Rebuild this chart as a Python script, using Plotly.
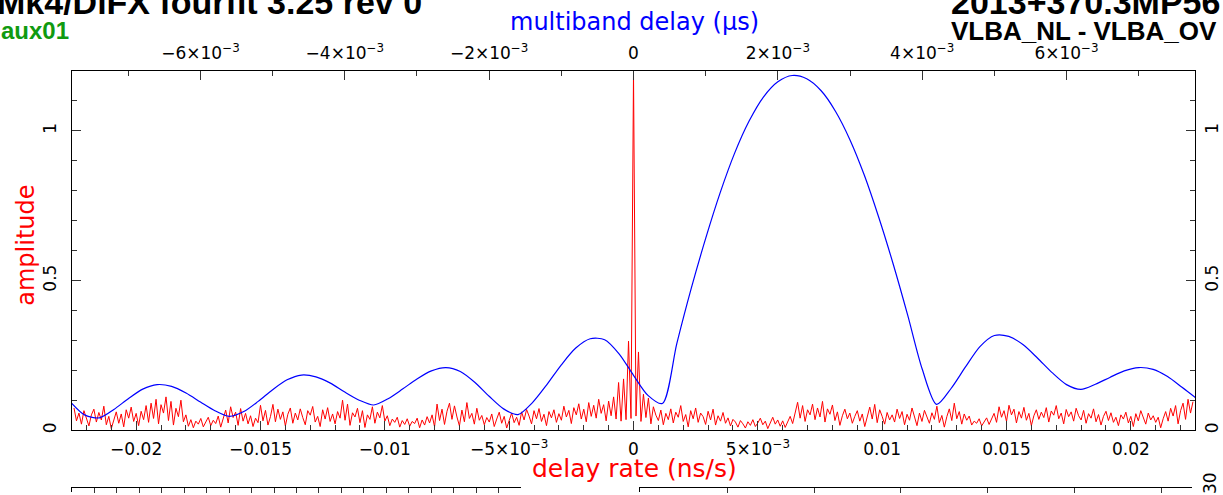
import numpy as np
import plotly.graph_objects as go

# ---- delay-rate spectrum (red), amplitude vs delay rate in ns/s, step 1e-4 ----
rate_step = 0.0001
rate_amp = [
    0.075, 0.032, 0.058, 0.021, 0.066, 0.044, 0.015, 0.052, 0.071, 0.028, 0.060, 0.035, 0.081, 0.019, 0.047,
    0.006, 0.038, 0.062, 0.024, 0.055, 0.012, 0.069, 0.041, 0.078, 0.030, 0.057, 0.016, 0.064, 0.036, 0.083,
    0.027, 0.091, 0.040, 0.104, 0.022, 0.086, 0.058, 0.112, 0.033, 0.097, 0.018, 0.074, 0.046, 0.101, 0.029,
    0.052, 0.014, 0.036, 0.009, 0.031, 0.021, 0.040, 0.012, 0.027, 0.044, 0.016, 0.034, 0.023, 0.048, 0.011,
    0.039, 0.068, 0.025, 0.079, 0.043, 0.061, 0.017, 0.073, 0.031, 0.057, 0.022, 0.049, 0.013, 0.041, 0.026,
    0.084, 0.032, 0.067, 0.018, 0.046, 0.087, 0.029, 0.071, 0.037, 0.062, 0.015, 0.054, 0.075, 0.024, 0.058,
    0.035, 0.072, 0.043, 0.019, 0.066, 0.051, 0.080, 0.028, 0.047, 0.013, 0.069, 0.038, 0.076, 0.030, 0.055,
    0.022, 0.063, 0.041, 0.101, 0.034, 0.088, 0.017, 0.059, 0.045, 0.074, 0.026, 0.066, 0.010, 0.052, 0.037,
    0.079, 0.024, 0.061, 0.042, 0.083, 0.031, 0.049, 0.016, 0.038, 0.027, 0.044, 0.011, 0.033, 0.020, 0.039,
    0.014, 0.030, 0.023, 0.041, 0.009, 0.035, 0.018, 0.046, 0.025, 0.052, 0.012, 0.088, 0.033, 0.071, 0.020,
    0.064, 0.091, 0.037, 0.082, 0.045, 0.015, 0.068, 0.029, 0.093, 0.040, 0.057, 0.021, 0.074, 0.034, 0.050,
    0.019, 0.043, 0.028, 0.055, 0.013, 0.038, 0.061, 0.024, 0.047, 0.008, 0.036, 0.058, 0.026, 0.044, 0.017,
    0.062, 0.035, 0.070, 0.048, 0.022, 0.066, 0.039, 0.073, 0.030, 0.054, 0.016, 0.063, 0.042, 0.069, 0.027,
    0.056, 0.034, 0.081, 0.045, 0.067, 0.023, 0.076, 0.052, 0.089, 0.038, 0.071, 0.029, 0.093, 0.047, 0.084,
    0.041, 0.104, 0.057, 0.086, 0.032, 0.098, 0.049, 0.112, 0.038, 0.160, 0.031, 0.172, 0.036, 0.298, 0.040,
    1.190, 0.048, 0.262, 0.030, 0.121, 0.043, 0.108, 0.022, 0.079, 0.051, 0.033, 0.068, 0.019, 0.057, 0.036,
    0.072, 0.025, 0.061, 0.044, 0.083, 0.030, 0.053, 0.012, 0.066, 0.039, 0.075, 0.027, 0.058, 0.046, 0.020,
    0.064, 0.035, 0.071, 0.018, 0.049, 0.031, 0.060, 0.024, 0.042, 0.015, 0.037, 0.028, 0.011, 0.033, 0.022,
    0.008, 0.029, 0.017, 0.036, 0.013, 0.025, 0.041, 0.019, 0.031, 0.006, 0.027, 0.044, 0.021, 0.035, 0.014,
    0.032, 0.010, 0.026, 0.047, 0.023, 0.058, 0.094, 0.041, 0.083, 0.030, 0.069, 0.052, 0.088, 0.036, 0.075,
    0.045, 0.097, 0.028, 0.072, 0.054, 0.085, 0.033, 0.062, 0.017, 0.049, 0.071, 0.039, 0.058, 0.024, 0.047,
    0.066, 0.031, 0.055, 0.013, 0.043, 0.078, 0.038, 0.087, 0.026, 0.069, 0.047, 0.021, 0.060, 0.035, 0.052,
    0.028, 0.071, 0.040, 0.063, 0.019, 0.054, 0.034, 0.075, 0.045, 0.016, 0.058, 0.030, 0.067, 0.042, 0.024,
    0.059, 0.037, 0.081, 0.026, 0.050, 0.011, 0.046, 0.072, 0.033, 0.091, 0.039, 0.063, 0.021, 0.055, 0.034,
    0.048, 0.018, 0.031, 0.024, 0.039, 0.015, 0.029, 0.042, 0.020, 0.036, 0.057, 0.027, 0.079, 0.044, 0.066,
    0.030, 0.084, 0.052, 0.071, 0.025, 0.063, 0.041, 0.077, 0.034, 0.057, 0.016, 0.049, 0.069, 0.037, 0.061,
    0.043, 0.076, 0.028, 0.065, 0.051, 0.083, 0.039, 0.058, 0.022, 0.070, 0.046, 0.062, 0.031, 0.074, 0.049,
    0.035, 0.067, 0.024, 0.056, 0.041, 0.072, 0.029, 0.053, 0.018, 0.047, 0.064, 0.033, 0.059, 0.027, 0.044,
    0.016, 0.052, 0.038, 0.061, 0.025, 0.047, 0.013, 0.056, 0.032, 0.066, 0.040, 0.021, 0.058, 0.035, 0.049,
    0.027, 0.044, 0.009, 0.039, 0.063, 0.031, 0.074, 0.048, 0.083, 0.022, 0.066, 0.091, 0.037, 0.104, 0.058,
    0.096,
]
rate_x = np.round((np.arange(len(rate_amp)) - (len(rate_amp) - 1) // 2) * rate_step, 6)

# ---- multiband delay function (blue), amplitude vs delay in microseconds ----
mbd_step = 0.0002
mbd_amp = [
    0.095, 0.051, 0.042, 0.070, 0.106, 0.138, 0.153, 0.147, 0.125, 0.095,
    0.066, 0.047, 0.063, 0.097, 0.136, 0.169, 0.185, 0.179, 0.158, 0.128,
    0.101, 0.085, 0.106, 0.138, 0.172, 0.199, 0.210, 0.197, 0.161, 0.114,
    0.072, 0.053, 0.093, 0.153, 0.219, 0.275, 0.306, 0.303, 0.256,
    0.184,
    0.117, 0.090, 0.290, 0.474, 0.641, 0.793, 0.925, 1.032, 1.113, 1.164,
    1.185, 1.174, 1.134, 1.065, 0.970, 0.851, 0.710, 0.554, 0.384, 0.205,
    0.087, 0.140, 0.212, 0.280, 0.317, 0.314, 0.286, 0.241, 0.193, 0.153,
    0.137, 0.154, 0.177, 0.199, 0.210, 0.204, 0.180, 0.144, 0.107,
]
mbd_x = np.round((np.arange(len(mbd_amp)) - (len(mbd_amp) - 1) // 2) * mbd_step, 6)

# ---- axis ticks ----
rate_range = [-0.02258, 0.02258]
rate_ticks = [-0.02, -0.015, -0.01, -0.005, 0, 0.005, 0.01, 0.015, 0.02]
rate_ticktext = ["\u22120.02", "\u22120.015", "\u22120.01", "\u22125\u00d710<sup>\u22123</sup>", "0",
                 "5\u00d710<sup>\u22123</sup>", "0.01", "0.015", "0.02"]
mbd_range = [-0.00778, 0.00778]
mbd_ticks = [-0.006, -0.004, -0.002, 0, 0.002, 0.004, 0.006]
mbd_ticktext = ["\u22126\u00d710<sup>\u22123</sup>", "\u22124\u00d710<sup>\u22123</sup>",
                "\u22122\u00d710<sup>\u22123</sup>", "0", "2\u00d710<sup>\u22123</sup>",
                "4\u00d710<sup>\u22123</sup>", "6\u00d710<sup>\u22123</sup>"]
amp_range = [0, 1.2]
amp_ticks = [0, 0.5, 1]
amp_ticktext = ["0", "0.5", "1"]

W, H = 1223, 495
ML, MR, MT, MB = 72, 28, 71, 0
plot_w = W - ML - MR
plot_h = H - MT - MB
main_bottom = 433


def px(xp):
    return (xp - ML) / plot_w


def py(yp):
    return (H - MB - yp) / plot_h


TICKFONT = dict(family="DejaVu Sans", size=17, color="black")
FRAME = dict(showline=True, linecolor="black", linewidth=1, showgrid=False, zeroline=False)

fig = go.Figure()
fig.add_trace(go.Scatter(x=mbd_x, y=mbd_amp, xaxis="x2", yaxis="y", mode="lines",
                         line=dict(color="#0000ff", width=1.2, shape="spline", smoothing=0.8),
                         hoverinfo="skip", showlegend=False))
fig.add_trace(go.Scatter(x=rate_x, y=rate_amp, xaxis="x", yaxis="y", mode="lines",
                         line=dict(color="#ff0000", width=1),
                         hoverinfo="skip", showlegend=False))
# empty traces so the right-hand amplitude axis and the lower panel frames are drawn
fig.add_trace(go.Scatter(x=[None], y=[None], xaxis="x", yaxis="y3", showlegend=False, hoverinfo="skip"))
fig.add_trace(go.Scatter(x=[None], y=[None], xaxis="x3", yaxis="y4", showlegend=False, hoverinfo="skip"))
fig.add_trace(go.Scatter(x=[None], y=[None], xaxis="x4", yaxis="y5", showlegend=False, hoverinfo="skip"))

main_dom = [py(main_bottom), 1]
fig.update_layout(
    width=W, height=H,
    margin=dict(l=ML, r=MR, t=MT, b=MB),
    paper_bgcolor="white", plot_bgcolor="white",
    xaxis=dict(domain=[0, 1], anchor="y", range=rate_range, side="bottom",
               tickmode="array", tickvals=rate_ticks, ticktext=rate_ticktext,
               ticks="inside", ticklen=9, tickcolor="#333", tickfont=TICKFONT,
               ticklabelstandoff=3,
               minor=dict(dtick=0.001, tick0=0, ticks="inside", ticklen=5, tickcolor="#333"),
               **FRAME),
    xaxis2=dict(overlaying="x", anchor="y", side="top", range=mbd_range,
                tickmode="array", tickvals=mbd_ticks, ticktext=mbd_ticktext,
                ticks="inside", ticklen=9, tickcolor="#333", tickfont=TICKFONT,
                ticklabelstandoff=4,
                minor=dict(dtick=0.001, tick0=0, ticks="inside", ticklen=5, tickcolor="#333"),
                **FRAME),
    yaxis=dict(domain=main_dom, anchor="x", range=amp_range, side="left",
               tickmode="array", tickvals=amp_ticks, ticktext=amp_ticktext, tickangle=-90,
               ticks="inside", ticklen=9, tickcolor="#333", tickfont=TICKFONT,
               ticklabelstandoff=8,
               minor=dict(dtick=0.1, tick0=0, ticks="inside", ticklen=5, tickcolor="#333"),
               **FRAME),
    yaxis3=dict(overlaying="y", anchor="x", side="right", range=amp_range,
                tickmode="array", tickvals=amp_ticks, ticktext=amp_ticktext, tickangle=-90,
                ticks="inside", ticklen=9, tickcolor="#333", tickfont=TICKFONT,
                ticklabelstandoff=2,
                minor=dict(dtick=0.1, tick0=0, ticks="inside", ticklen=5, tickcolor="#333"),
                **FRAME),
    # tops of the panels below
    xaxis3=dict(domain=[0, px(521)], anchor="y4", side="top", range=[0, 20],
                dtick=1, tick0=0, ticks="inside", ticklen=5, tickcolor="#333",
                showticklabels=False, **FRAME),
    yaxis4=dict(domain=[0, py(491)], anchor="x3", range=[0, 1], ticks="",
                showticklabels=False, **FRAME),
    xaxis4=dict(domain=[px(640), px(1192)], anchor="y5", side="top", range=[0, 6.345],
                dtick=1, tick0=0, ticks="inside", ticklen=5, tickcolor="#333",
                showticklabels=False, **FRAME),
    yaxis5=dict(domain=[0, py(491)], anchor="x4", range=[0, 1], ticks="",
                showticklabels=False, **FRAME),
)

HEAD = "Liberation Sans"
annotations = [
    dict(text="<b>Mk4/DiFX fourfit 3.25 rev 0</b>", x=px(-4), y=py(1.5), xanchor="left", yanchor="middle",
         font=dict(family=HEAD, size=34, color="black")),
    dict(text="<b>2013+370.3MP56</b>", x=px(950), y=py(1.5), xanchor="left", yanchor="middle",
         font=dict(family=HEAD, size=34, color="black")),
    dict(text="<b>aux01</b>", x=px(0), y=py(30.5), xanchor="left", yanchor="middle",
         font=dict(family=HEAD, size=24, color="#109a10")),
    dict(text="<b>VLBA_NL - VLBA_OV</b>", x=px(950), y=py(30.5), xanchor="left", yanchor="middle",
         font=dict(family=HEAD, size=26, color="black")),
    dict(text="multiband delay (\u03bcs)", x=px(634), y=py(22), xanchor="center", yanchor="middle",
         font=dict(family="DejaVu Sans", size=24, color="#0000ff")),
    dict(text="delay rate (ns/s)", x=px(634), y=py(471), xanchor="center", yanchor="middle",
         font=dict(family="DejaVu Sans", size=25, color="#ff0000")),
    dict(text="amplitude", x=px(26), y=py(247), xanchor="center", yanchor="middle", textangle=-90,
         font=dict(family="DejaVu Sans", size=24, color="#ff0000")),
    dict(text="30", x=px(1210), y=py(486), xanchor="center", yanchor="middle", textangle=-90,
         font=TICKFONT),
]
for a in annotations:
    a.update(xref="paper", yref="paper", showarrow=False, borderpad=0)
fig.update_layout(annotations=annotations)

fig.write_html("out.html")
